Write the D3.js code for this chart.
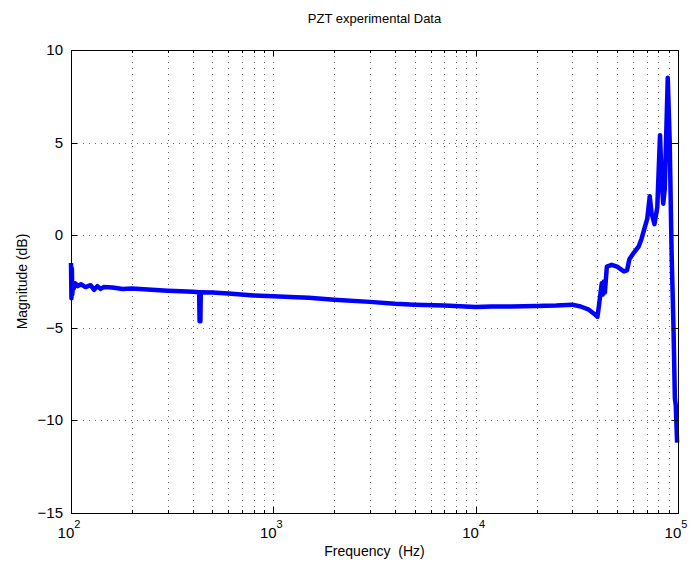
<meta charset="utf-8">
<head>
<script src="https://d3js.org/d3.v7.min.js"></script>
<style>
body { margin: 0; background: #fff; }
text { font-family: "Liberation Sans", Arial, sans-serif; }
</style>
</head>
<body>
<div id="container"></div>
<script>

// frequency (Hz) and magnitude (dB)
var freq = [100, 100.5, 101, 101.5, 102, 103, 105, 108, 112, 118, 125, 130, 135, 140, 145, 160, 180, 200, 250, 300, 350, 400, 430,
            432, 436, 438, 500, 600, 800, 1000, 1300, 1500, 2000, 3000, 4000, 5000, 7000, 10000, 12000, 15000, 20000,
            25000, 30000, 33000, 36000, 39000, 40000, 41000, 42000, 42500, 43000, 43500, 44500, 47000, 50000, 54000,
            56000, 57500, 60000, 64000, 66000, 68000, 70500, 72500, 74000, 76500, 79000, 81500, 83000, 84500, 86000,
            89000, 91000, 93000, 95000, 96500, 97500, 99000];
var mag  = [-1.5, -3.4, -1.8, -3.2, -2.6, -2.9, -2.6, -2.75, -2.65, -2.8, -2.7, -2.95, -2.75, -2.9, -2.8, -2.82, -2.9, -2.88, -2.95, -3.0, -3.03, -3.05, -3.08,
            -4.65, -4.65, -3.08, -3.1, -3.15, -3.25, -3.3, -3.35, -3.38, -3.48, -3.6, -3.7, -3.75, -3.8, -3.88, -3.85, -3.85, -3.82,
            -3.8, -3.75, -3.85, -4.0, -4.3, -4.4, -3.5, -2.6, -3.2, -2.5, -3.1, -1.7, -1.6, -1.7, -1.95,
            -1.9, -1.3, -1.0, -0.6, -0.2, 0.3, 0.9, 2.1, 1.2, 0.6, 1.5, 5.4, 3.0, 1.7, 2.5,
            8.5, 5.0, -1.0, -5.0, -8.8, -9.2, -11.2];

var yTicks = [-15, -10, -5, 0, 5, 10];
var xMajor = [2, 3, 4, 5];   // exponents of 10

var width = 691, height = 569;
var mLeft = 71, mRight = 678, mTop = 50, mBottom = 513;

var svg = d3.select('#container').append('svg')
  .attr('width', width).attr('height', height);

var x = d3.scaleLog().domain([100, 100000]).range([mLeft, mRight]);
var y = d3.scaleLinear().domain([-15, 10]).range([mBottom, mTop]);

// minor positions 2..9 per decade
var xMinor = [];
for (let e = 2; e < 5; e++) {
  for (let m = 2; m <= 9; m++) xMinor.push(m * Math.pow(10, e));
}

var grid = svg.append('g')
  .attr('stroke', '#666')
  .attr('stroke-width', 1)
  .attr('stroke-dasharray', '1,5');

grid.selectAll('.gx').data(xMinor.concat([1000, 10000]))
  .enter().append('line')
  .attr('x1', d => Math.round(x(d)) + 0.5).attr('x2', d => Math.round(x(d)) + 0.5)
  .attr('y1', mBottom).attr('y2', mTop);

grid.selectAll('.gy').data(yTicks.slice(1, 5))
  .enter().append('line')
  .attr('y1', d => Math.round(y(d)) + 0.5).attr('y2', d => Math.round(y(d)) + 0.5)
  .attr('x1', mLeft).attr('x2', mRight);

// data line
var line = d3.line().x((d, i) => x(freq[i])).y(d => y(d));
svg.append('path')
  .datum(mag)
  .attr('fill', 'none')
  .attr('stroke', '#0000ff')
  .attr('stroke-width', 4.5)
  .attr('stroke-linejoin', 'round')
  .attr('d', line);

// ticks inside the box
var ticks = svg.append('g').attr('stroke', '#000').attr('stroke-width', 1);
xMinor.forEach(function(d) {
  let px = Math.round(x(d)) + 0.5;
  ticks.append('line').attr('x1', px).attr('x2', px).attr('y1', mBottom).attr('y2', mBottom - 3);
  ticks.append('line').attr('x1', px).attr('x2', px).attr('y1', mTop).attr('y2', mTop + 3);
});
xMajor.forEach(function(e) {
  let px = Math.round(x(Math.pow(10, e))) + 0.5;
  ticks.append('line').attr('x1', px).attr('x2', px).attr('y1', mBottom).attr('y2', mBottom - 6);
  ticks.append('line').attr('x1', px).attr('x2', px).attr('y1', mTop).attr('y2', mTop + 6);
});
yTicks.forEach(function(d) {
  let py = Math.round(y(d)) + 0.5;
  ticks.append('line').attr('x1', mLeft).attr('x2', mLeft + 6).attr('y1', py).attr('y2', py);
  ticks.append('line').attr('x1', mRight).attr('x2', mRight - 6).attr('y1', py).attr('y2', py);
});

// box
svg.append('rect')
  .attr('x', mLeft + 0.5).attr('y', mTop + 0.5)
  .attr('width', mRight - mLeft).attr('height', mBottom - mTop)
  .attr('fill', 'none').attr('stroke', '#000').attr('stroke-width', 1);

// y tick labels
svg.append('g').selectAll('text').data(yTicks).enter().append('text')
  .attr('x', mLeft - 8).attr('y', d => y(d) + 5)
  .attr('text-anchor', 'end')
  .attr('font-size', 15)
  .text(d => d < 0 ? '\u2212' + Math.abs(d) : d);

// x tick labels 10^e
xMajor.forEach(function(e) {
  let t = svg.append('text')
    .attr('x', x(Math.pow(10, e)) - 2).attr('y', 538)
    .attr('text-anchor', 'middle')
    .attr('font-size', 15);
  t.append('tspan').text('10');
  t.append('tspan').attr('dy', -10).attr('font-size', 11).text(e);
});

// labels
svg.append('text')
  .attr('x', (mLeft + mRight) / 2).attr('y', 23)
  .attr('text-anchor', 'middle').attr('font-size', 13)
  .text('PZT experimental Data');

svg.append('text')
  .attr('x', (mLeft + mRight) / 2).attr('y', 556)
  .attr('text-anchor', 'middle').attr('font-size', 14)
  .style('white-space', 'pre')
  .text('Frequency  (Hz)');

svg.append('text')
  .attr('transform', 'translate(27,' + (mTop + mBottom) / 2 + ') rotate(-90)')
  .attr('text-anchor', 'middle').attr('font-size', 14)
  .text('Magnitude (dB)');

</script>
</body>
